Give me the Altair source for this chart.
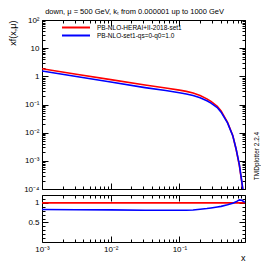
import altair as alt
import pandas as pd

# ---- data ----
xs = [0.001, 0.00316, 0.01, 0.0316, 0.0631, 0.1, 0.126, 0.158, 0.2, 0.251,
      0.288, 0.355, 0.404, 0.501, 0.597, 0.667, 0.745, 0.807, 0.871]
red = [1.87, 1.19, 0.762, 0.49, 0.385, 0.324, 0.292, 0.254, 0.209, 0.158,
       0.129, 0.087, 0.0589, 0.0234, 0.0079, 0.00263, 0.00068, 0.000178, 0.0000447]
blue = [1.552, 0.982, 0.625, 0.397, 0.312, 0.262, 0.237, 0.208, 0.1745, 0.135,
        0.1122, 0.0779, 0.0536, 0.0222, 0.00782, 0.0027, 0.00073, 0.00019, 0.000046]

ratio_x = [0.001, 0.00316, 0.01, 0.0316, 0.0631, 0.1, 0.126, 0.158, 0.2, 0.251,
           0.288, 0.355, 0.404, 0.501, 0.597, 0.667, 0.745, 0.807, 0.871, 0.9]
ratio_red = [1.0, 1.0, 1.0, 1.0, 1.0, 1.0, 1.0, 1.0, 1.0, 1.0, 1.0, 1.0, 1.0,
             1.0, 1.0, 1.0, 1.0, 1.0, 1.0, 1.0]
ratio_blue = [0.83, 0.825, 0.82, 0.81, 0.81, 0.81, 0.812, 0.818, 0.835, 0.855,
              0.87, 0.895, 0.91, 0.95, 0.99, 1.025, 1.075, 1.065, 1.03, 1.02]

names = ["PB-NLO-HERAI+II-2018-set1", "PB-NLO-set1-qs=0-q0=1.0"]
colors = ["#ff0000", "#0000ff"]
title_text = "down, \u03bc = 500 GeV, k\u209c from 0.000001 up to 1000 GeV"
ytitle = "xf(x,\u03bc)"
xtitle = "x"
stamp = "TMDplotter 2.2.4"

# tick values
xdec = [1e-3, 1e-2, 1e-1]
x_ticks = [m * d for d in [1e-3, 1e-2, 1e-1] for m in range(1, 10)]
y_dec = [1e-4, 1e-3, 1e-2, 1e-1, 1.0, 10.0, 100.0]
y_ticks = [m * d for d in [1e-4, 1e-3, 1e-2, 1e-1, 1.0, 10.0] for m in range(1, 10)] + [100.0]
r_lab = [0.5, 1.0]
r_ticks = [0.1, 0.2, 0.3, 0.4, 0.5, 0.6, 0.7, 0.8, 0.9, 1.0, 1.1]

FONT = "Liberation Sans"
W, HT, HB = 203, 169, 47

sup = {-4: "\u207b\u2074", -3: "\u207b\u00b3", -2: "\u207b\u00b2", -1: "\u207b\u00b9", 2: "\u00b2"}
E = "round(log(datum.value)/LN10)"
ISDEC = "abs(log(datum.value)/LN10 - round(log(datum.value)/LN10)) < 0.001"
lab = "''"
for e, s in sup.items():
    lab = f"({E}=={e}) ? '10{s}' : " + lab
lab = f"({E}==0) ? '1' : ({E}==1) ? '10' : {lab}"

log_tick = {"condition": {"test": ISDEC, "value": 6}, "value": 3}
lin_tick = {"condition": {"test": "abs(datum.value*2 - round(datum.value*2)) < 0.001", "value": 6}, "value": 3}

df_top = pd.DataFrame({
    "x": xs + xs,
    "v": red + blue,
    "s": [names[0]] * len(xs) + [names[1]] * len(xs),
})
df_bot = pd.DataFrame({
    "x": ratio_x + ratio_x,
    "v": ratio_red + ratio_blue,
    "s": [names[0]] * len(ratio_x) + [names[1]] * len(ratio_x),
})


def panel(df, ydom, yscale_type, ylabvals, yvals, ytick, ylabexpr, xlabels,
          ytitle_text, xtitle_text, show_legend, H):
    xsc = alt.Scale(type="log", domain=[0.001, 0.9], nice=False)
    if yscale_type == "log":
        ysc = alt.Scale(type="log", domain=ydom, nice=False)
    else:
        ysc = alt.Scale(type="linear", domain=ydom, nice=False, zero=False)

    # axis A: labels + frame line (left / bottom)
    xa_kwargs = dict(orient="bottom", values=xdec, ticks=False, domain=True, domainColor="black",
                     grid=False, labelFont=FONT, labelFontSize=8, labelColor="black",
                     labelPadding=3, labelOverlap=False, labelFlush=False)
    if xlabels:
        xa_kwargs["labelExpr"] = lab
        xa_kwargs["labels"] = True
    else:
        xa_kwargs["labels"] = False
    if xtitle_text:
        xa = alt.Axis(title=xtitle_text, titleFont=FONT, titleFontSize=9, titleFontWeight="normal",
                      titleAnchor="end", titlePadding=0, titleColor="black", **xa_kwargs)
    else:
        xa = alt.Axis(title=None, **xa_kwargs)

    ya_kwargs = dict(orient="left", values=ylabvals, ticks=False, domain=True, domainColor="black",
                     grid=False, labelFont=FONT, labelFontSize=8, labelColor="black",
                     labelPadding=3, labelOverlap=False, labelExpr=ylabexpr, labelFlush=False)
    if ytitle_text:
        ya = alt.Axis(title=ytitle_text, titleFont=FONT, titleFontSize=9, titleFontWeight="normal",
                      titleAnchor="end", titlePadding=6, titleColor="black", **ya_kwargs)
    else:
        ya = alt.Axis(title=None, **ya_kwargs)

    if show_legend:
        col = alt.Color("s:N", scale=alt.Scale(domain=names, range=colors),
                        legend=alt.Legend(title=None, orient="none", legendX=30, legendY=3.5,
                                          symbolType="M-4.667,0H4.667", symbolSize=36,
                                          symbolStrokeWidth=2, symbolFillColor="transparent",
                                          labelFont=FONT, labelFontSize=6.5, labelColor="black",
                                          rowPadding=-1.5, labelOffset=17, padding=0))
    else:
        col = alt.Color("s:N", scale=alt.Scale(domain=names, range=colors), legend=None)

    la = alt.Chart(df).mark_line(strokeWidth=1.6, clip=True).encode(
        x=alt.X("x:Q", scale=xsc, axis=xa),
        y=alt.Y("v:Q", scale=ysc, axis=ya),
        color=col,
        detail="s:N",
    )
    # axis B: inward ticks on left / bottom edges
    lb = alt.Chart(df).mark_line(opacity=0, clip=True).encode(
        x=alt.X("x:Q", scale=xsc, axis=alt.Axis(title=None, orient="top", offset=-H, values=x_ticks,
                                                 labels=False, domain=False, grid=False,
                                                 tickColor="black", tickSize=log_tick)),
        y=alt.Y("v:Q", scale=ysc, axis=alt.Axis(title=None, orient="right", offset=-W, values=yvals,
                                                 labels=False, domain=False, grid=False,
                                                 tickColor="black", tickSize=ytick)),
        detail="s:N",
    )
    # axis C: mirrored ticks on right / top edges, closing the frame
    lc = alt.Chart(df).mark_line(opacity=0, clip=True).encode(
        x=alt.X("x:Q", scale=xsc, axis=alt.Axis(title=None, orient="bottom", offset=-H, values=x_ticks,
                                                 labels=False, domain=True, domainColor="black", grid=False,
                                                 tickColor="black", tickSize=log_tick)),
        y=alt.Y("v:Q", scale=ysc, axis=alt.Axis(title=None, orient="left", offset=-W, values=yvals,
                                                 labels=False, domain=True, domainColor="black", grid=False,
                                                 tickColor="black", tickSize=ytick)),
        detail="s:N",
    )
    return alt.layer(la, lb, lc).resolve_axis(x="independent", y="independent").properties(width=W, height=H)


top = panel(df_top, [1e-4, 100.0], "log", y_dec, y_ticks, log_tick, lab, False, ytitle, None, True, HT)
stamp_df = pd.DataFrame({"t": [stamp]})
stamp_layer = alt.Chart(stamp_df).mark_text(angle=270, font=FONT, fontSize=6.5, color="black",
                                            align="center", baseline="middle").encode(
    text="t:N", x=alt.value(W + 12), y=alt.value(136))
top = alt.layer(top, stamp_layer).properties(width=W, height=HT)

bot = panel(df_bot, [0.0, 1.2], "linear", r_lab, r_ticks, lin_tick,
            "datum.value==0.5 ? '0.5' : '1'", True, None, xtitle, False, HB)

chart = alt.vconcat(top, bot, spacing=0).resolve_scale(color="independent").properties(
    title=alt.TitleParams(title_text, font=FONT, fontSize=7.5, fontWeight="normal",
                          anchor="middle", color="black", offset=0),
    padding={"left": 0, "top": 0, "right": 0, "bottom": 0},
).configure_view(stroke=None).configure(background="white")

chart.save("out.html", embed_options={"renderer": "svg", "actions": False})
